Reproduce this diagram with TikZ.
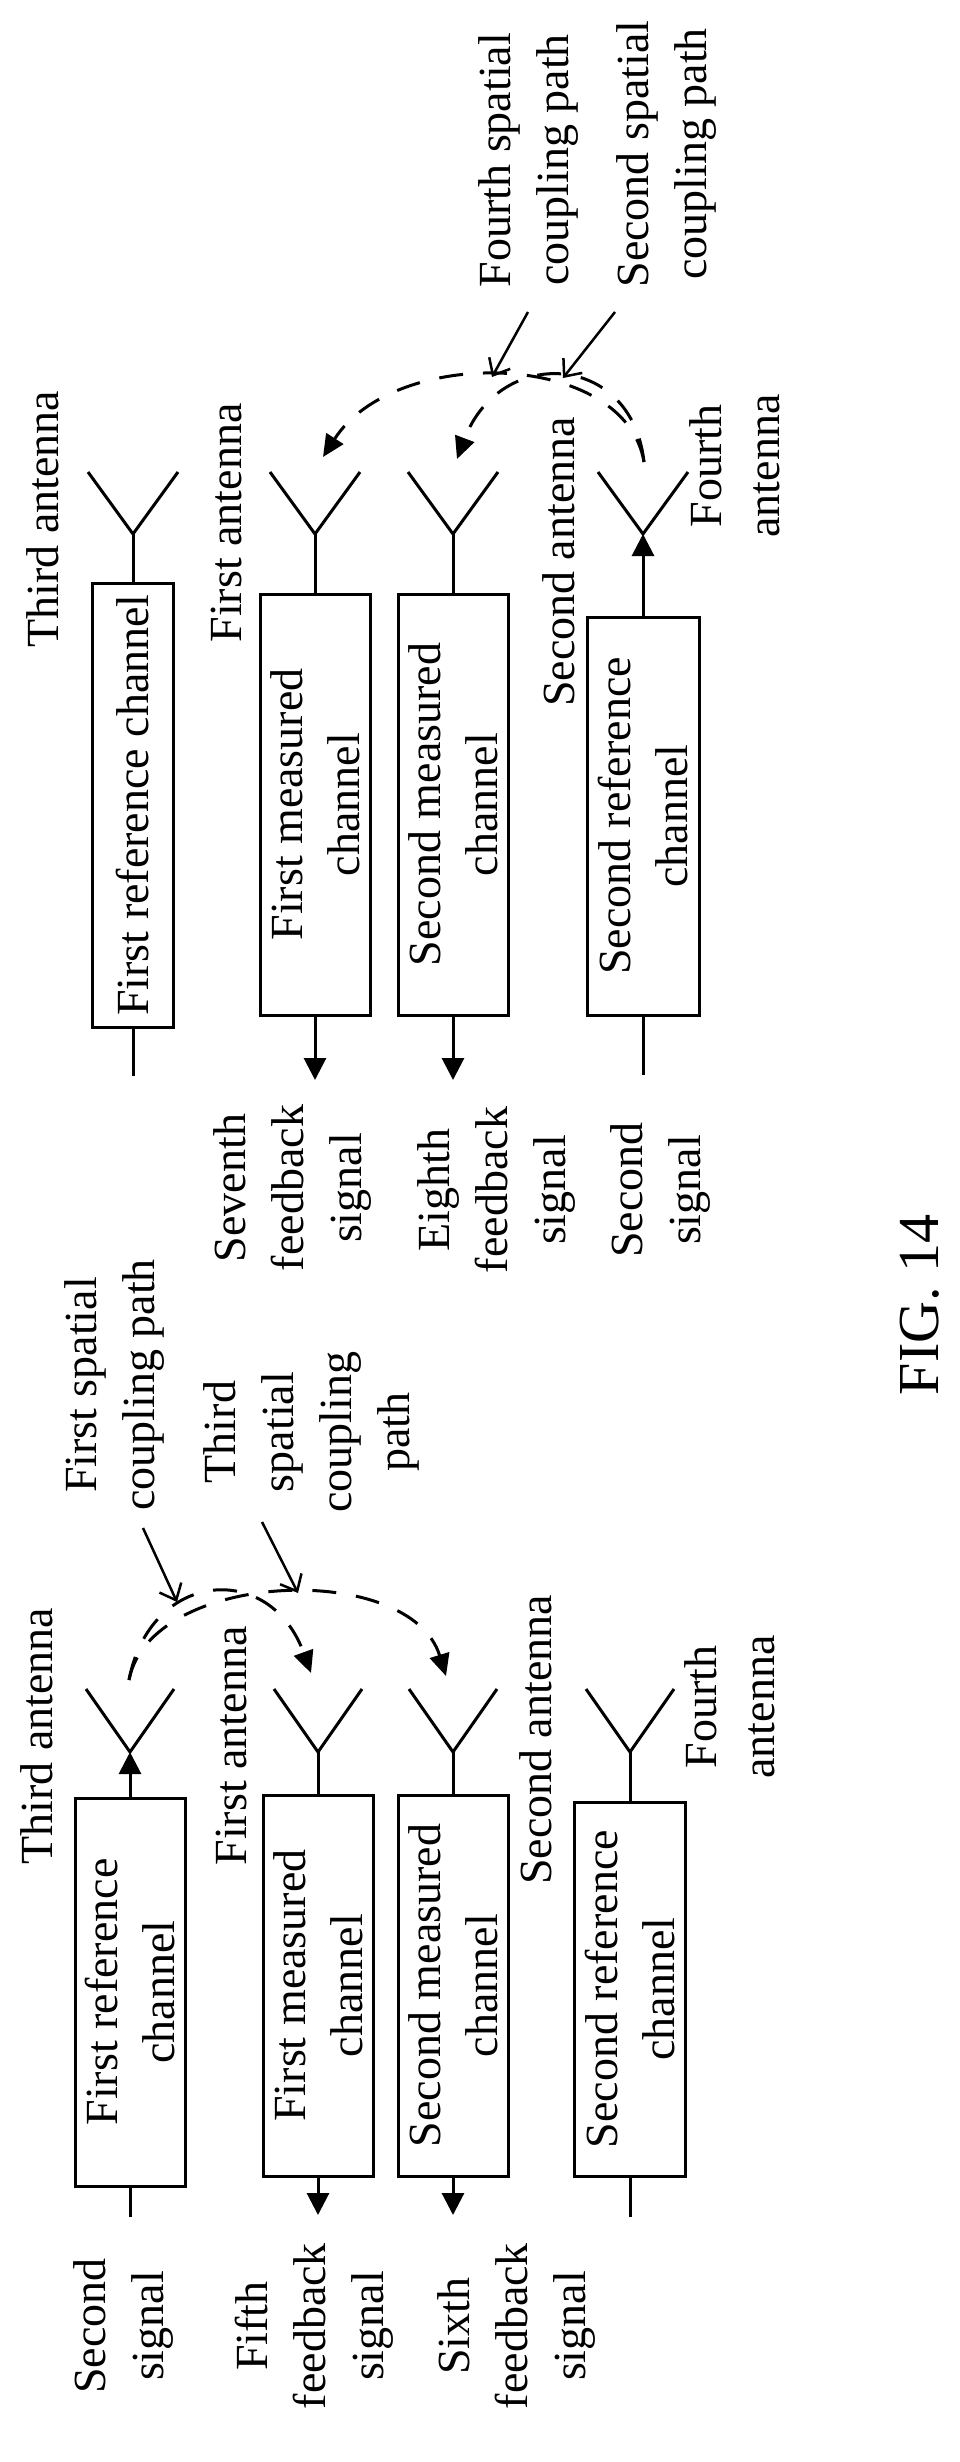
\documentclass[tikz,border=0pt]{standalone}
\usepackage{fontspec}
\setmainfont{Liberation Serif}
\usetikzlibrary{arrows.meta}
\begin{document}
\begin{tikzpicture}[x=1pt,y=-1pt,line width=3pt,
  lbl/.style={rotate=90,inner sep=0pt,align=center,font=\fontsize{46}{58}\selectfont},
  box/.style={draw,rotate=90,inner sep=0pt,align=center,font=\fontsize{46}{57}\selectfont},
  sig/.style={-{Triangle[length=22pt,width=22pt]}},
  ptr/.style={line width=2.5pt,-{Straight Barb[length=14pt,width=24pt]}},
  cpl/.style={line width=3pt,dash pattern=on 24pt off 20pt,-{Triangle[length=22pt,width=20pt]}}]
\useasboundingbox (0,0) rectangle (960,2462);
% ---------- top group ----------
\node[box,minimum width=444pt,minimum height=81pt] (b1) at (133,805) {First reference channel};
\node[box,minimum width=421pt,minimum height=110pt] (b2) at (315,804.5) {First measured\\channel};
\node[box,minimum width=421pt,minimum height=110pt] (b3) at (453,804.5) {Second measured\\channel};
\node[box,minimum width=398pt,minimum height=112pt] (b4) at (643,816) {Second reference\\channel};
\foreach \n/\x in {a1/133,a2/315,a3/453,a4/643}{
  \coordinate (\n) at (\x,534);
  \draw (\x-45,472) -- (\n) -- (\x+45,472);
}
\draw (b1.east) -- (a1);
\draw (b2.east) -- (a2);
\draw (b3.east) -- (a3);
\draw[sig] (b4.east) -- (a4);
\coordinate (i1) at (133,1076);
\coordinate (i4) at (643,1075);
\coordinate (o2) at (315,1080);
\coordinate (o3) at (453,1080);
\draw (b1.west) -- (i1);
\draw (b4.west) -- (i4);
\draw[sig] (b2.west) -- (o2);
\draw[sig] (b3.west) -- (o3);
\node[lbl] (t3a) at (43,519) {Third antenna};
\node[lbl] (t1a) at (226,523) {First antenna};
\node[lbl] (t2a) at (559,562) {Second antenna};
\node[lbl] (t4a) at (735,466) {Fourth\\antenna};
\node[lbl] (s7) at (293,1188) {Seventh\\feedback\\signal};
\node[lbl] (s8) at (496,1190) {Eighth\\feedback\\signal};
\node[lbl] (s2t) at (660,1190) {Second\\signal};
\node[lbl] (p4) at (528,160) {Fourth spatial\\coupling path};
\node[lbl] (p2) at (666,154) {Second spatial\\coupling path};
\coordinate (c4s) at (644,462);
\coordinate (c4e1) at (323,457);
\coordinate (c4e2) at (457,459);
\draw[cpl] (c4s) .. controls (625,350) and (395,345) .. (c4e1);
\draw[cpl] (c4s) .. controls (632,352) and (500,345) .. (c4e2);
\coordinate (q4s) at (528,312); \coordinate (q4e) at (492,377);
\coordinate (q2s) at (615,312); \coordinate (q2e) at (563,378);
\draw[ptr] (q4s) -- (q4e);
\draw[ptr] (q2s) -- (q2e);
% ---------- bottom group ----------
\node[box,minimum width=388pt,minimum height=110pt] (d1) at (130,1992) {First reference\\channel};
\node[box,minimum width=381pt,minimum height=110pt] (d2) at (318,1985.5) {First measured\\channel};
\node[box,minimum width=381pt,minimum height=110pt] (d3) at (453,1985.5) {Second measured\\channel};
\node[box,minimum width=374pt,minimum height=111pt] (d4) at (630,1989) {Second reference\\channel};
\foreach \n/\x in {e1/130,e2/318,e3/453,e4/630}{
  \coordinate (\n) at (\x,1752);
  \draw (\x-44,1689) -- (\n) -- (\x+44,1689);
}
\draw[sig] (d1.east) -- (e1);
\draw (d2.east) -- (e2);
\draw (d3.east) -- (e3);
\draw (d4.east) -- (e4);
\coordinate (j1) at (130,2217);
\coordinate (j4) at (630,2217);
\coordinate (r2) at (318,2215);
\coordinate (r3) at (453,2215);
\draw (d1.west) -- (j1);
\draw (d4.west) -- (j4);
\draw[sig] (d2.west) -- (r2);
\draw[sig] (d3.west) -- (r3);
\node[lbl] (u3a) at (37,1736) {Third antenna};
\node[lbl] (u1a) at (231,1746) {First antenna};
\node[lbl] (u2a) at (536,1740) {Second antenna};
\node[lbl] (u4a) at (730,1707) {Fourth\\antenna};
\node[lbl] (s2b) at (124,2326) {Second\\signal};
\node[lbl] (s5) at (314,2326) {Fifth\\feedback\\signal};
\node[lbl] (s6) at (516,2326) {Sixth\\feedback\\signal};
\node[lbl] (p1) at (115,1385) {First spatial\\coupling path};
\node[lbl] (p3) at (311,1432) {Third\\spatial\\coupling\\path};
\coordinate (c3s) at (129,1680);
\coordinate (c3e1) at (311,1673);
\coordinate (c3e2) at (446,1676);
\draw[cpl] (c3s) .. controls (150,1570) and (270,1560) .. (c3e1);
\draw[cpl] (c3s) .. controls (150,1570) and (410,1560) .. (c3e2);
\coordinate (q1s) at (143,1528); \coordinate (q1e) at (177,1602);
\coordinate (q3s) at (262,1522); \coordinate (q3e) at (298,1593);
\draw[ptr] (q1s) -- (q1e);
\draw[ptr] (q3s) -- (q3e);
\node[rotate=90,inner sep=0pt,font=\fontsize{58}{70}\selectfont] (fig) at (920,1305) {FIG. 14};
\end{tikzpicture}
\end{document}
